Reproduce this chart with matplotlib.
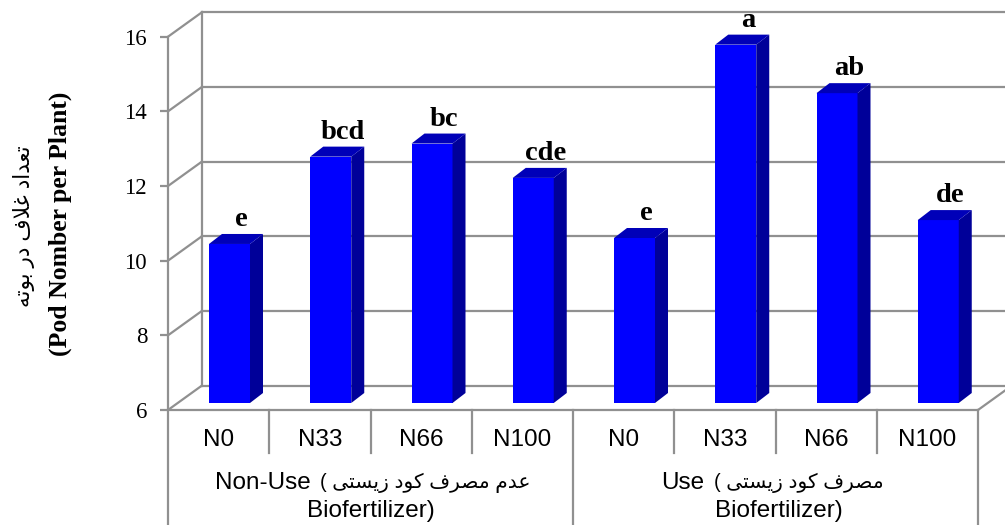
import matplotlib
matplotlib.use('Agg')
import matplotlib.pyplot as plt
from matplotlib.patches import Polygon

# one entry per bar
doses = ['N0', 'N33', 'N66', 'N100', 'N0', 'N33', 'N66', 'N100']
pods = [10.26, 12.6, 12.95, 12.03, 10.42, 15.6, 14.3, 10.9]
letters = ['e', 'bcd', 'bc', 'cde', 'e', 'a', 'ab', 'de']
yticks = [6, 8, 10, 12, 14, 16]

group1_fa = 'عدم مصرف کود زیستی'
group2_fa = 'مصرف کود زیستی'
ylabel_fa = 'تعداد غلاف در بوته'
ylabel_en = '(Pod Nomber per Plant)'

# arabic forms: isolated, final, initial, medial (matplotlib does no shaping)
forms = {
    'ا': (0xFE8D, 0xFE8E), 'د': (0xFEA9, 0xFEAA), 'ر': (0xFEAD, 0xFEAE),
    'ز': (0xFEAF, 0xFEB0), 'و': (0xFEED, 0xFEEE),
    'ب': (0xFE8F, 0xFE90, 0xFE91, 0xFE92), 'ت': (0xFE95, 0xFE96, 0xFE97, 0xFE98),
    'س': (0xFEB1, 0xFEB2, 0xFEB3, 0xFEB4), 'ص': (0xFEB9, 0xFEBA, 0xFEBB, 0xFEBC),
    'ع': (0xFEC9, 0xFECA, 0xFECB, 0xFECC), 'غ': (0xFECD, 0xFECE, 0xFECF, 0xFED0),
    'ف': (0xFED1, 0xFED2, 0xFED3, 0xFED4), 'ک': (0xFB8E, 0xFB8F, 0xFB90, 0xFB91),
    'ل': (0xFEDD, 0xFEDE, 0xFEDF, 0xFEE0), 'م': (0xFEE1, 0xFEE2, 0xFEE3, 0xFEE4),
    'ه': (0xFEE9, 0xFEEA, 0xFEEB, 0xFEEC), 'ی': (0xFBFC, 0xFBFD, 0xFBFE, 0xFBFF),
}

def shape(text):
    out = []
    text = text.replace('لا', '\uFEFB')
    for i, ch in enumerate(text):
        prev = text[i-1] if i > 0 else ' '
        nxt = text[i+1] if i < len(text)-1 else ' '
        joined_prev = prev in forms and len(forms[prev]) == 4
        joined_next = (nxt in forms or nxt == '\uFEFB') and ch in forms and len(forms[ch]) == 4
        if ch == '\uFEFB':
            out.append('\uFEFC' if joined_prev else ch)
        elif ch not in forms:
            out.append(ch)
        elif joined_prev and joined_next:
            out.append(chr(forms[ch][3]))
        elif joined_next:
            out.append(chr(forms[ch][2]))
        elif joined_prev:
            out.append(chr(forms[ch][1]))
        else:
            out.append(chr(forms[ch][0]))
    return ''.join(out[::-1])

W, H = 1005, 525
left, right, top, bottom = 168, 978, 36.7, 410
grey = '#909090'
sans = ['Liberation Sans', 'DejaVu Sans']
serif = ['Liberation Serif', 'DejaVu Serif']

fig = plt.figure(figsize=(W/100, H/100), dpi=100)
ax = fig.add_axes([left/W, 1-bottom/H, (right-left)/W, (bottom-top)/H])
ax.set_xlim(0, 8)
ax.set_ylim(6, 16)

# pixel sizes turned into data units
px = 8/(right-left)
py = 10/(bottom-top)
wall_x, wall_y = 34*px, 24.5*py
side_x, side_y = 13*px, 10*py
bar_w = 41*px
bar_off = (209-left)*px
base = 6 + 7*py
y_below = 6 - (H-bottom)*py

for s in ax.spines.values():
    s.set_visible(False)

lw = 1.6
# walls and grid
for v in yticks:
    ax.plot([0, wall_x], [v, v+wall_y], color=grey, lw=lw, clip_on=False, zorder=1)
    ax.plot([wall_x, 8.4], [v+wall_y, v+wall_y], color=grey, lw=lw, clip_on=False, zorder=1)
ax.plot([wall_x, wall_x], [6+wall_y, 16+wall_y], color=grey, lw=lw, clip_on=False, zorder=1)
ax.plot([0, 0], [y_below, 16], color=grey, lw=lw, clip_on=False, zorder=1)
ax.plot([0, 8], [6, 6], color=grey, lw=lw, clip_on=False, zorder=1)
ax.plot([8, 8+wall_x], [6, 6+wall_y], color=grey, lw=lw, clip_on=False, zorder=1)

# category separators
for i in range(1, 9):
    low = y_below if i in (4, 8) else 6 - 43*py
    ax.plot([i, i], [low, 6], color=grey, lw=lw, clip_on=False, zorder=1)

# bars with fake depth
for i, v in enumerate(pods):
    x0 = i + bar_off
    ytop = base + v - 6
    ax.bar(x0, v-6, width=bar_w, bottom=base, align='edge', color='#0000FF', zorder=3)
    ax.add_patch(Polygon([(x0+bar_w, base), (x0+bar_w+side_x, base+side_y),
                          (x0+bar_w+side_x, ytop+side_y), (x0+bar_w, ytop)],
                         closed=True, fc='#000099', ec='none', zorder=3, clip_on=False))
    ax.add_patch(Polygon([(x0, ytop), (x0+side_x, ytop+side_y),
                          (x0+bar_w+side_x, ytop+side_y), (x0+bar_w, ytop)],
                         closed=True, fc='#0000B8', ec='none', zorder=3, clip_on=False))
    ax.text(x0+bar_w/2+12*px, ytop+18*py, letters[i], ha='center', va='baseline',
            fontsize=20.5, fontweight='bold', family=serif, zorder=4, clip_on=False)

ax.set_yticks(yticks)
ax.set_yticklabels([str(t) for t in yticks], family=serif, fontsize=16.5)
ax.tick_params(axis='y', length=6, width=lw, color=grey, pad=9)
ax.set_xticks([i+0.5 for i in range(8)])
ax.set_xticklabels(doses, family=sans, fontsize=17.5)
ax.tick_params(axis='x', length=0, pad=14)

# group labels, latin and persian sized apart like the source
y_line1 = 6 - 73*py
y_line2 = 6 - 101*py
ax.text((311-left)*px, y_line1, 'Non-Use', ha='right', va='center',
        family=sans, fontsize=17.5, clip_on=False)
ax.text((320-left)*px, y_line1, '( ' + shape(group1_fa), ha='left', va='center',
        family=sans, fontsize=14.5, clip_on=False)
ax.text(2.0, y_line2, 'Biofertilizer)', ha='center', va='center',
        family=sans, fontsize=17.5, clip_on=False)
ax.text((704-left)*px, y_line1, 'Use', ha='right', va='center',
        family=sans, fontsize=17.5, clip_on=False)
ax.text((714-left)*px, y_line1, '( ' + shape(group2_fa), ha='left', va='center',
        family=sans, fontsize=14.5, clip_on=False)
ax.text(6.03, y_line2, 'Biofertilizer)', ha='center', va='center',
        family=sans, fontsize=17.5, clip_on=False)

# y label, two lines
fig.text(24/W, 1-226/H, shape(ylabel_fa), rotation=90, ha='center', va='center',
         family=sans, fontsize=15.5)
fig.text(60/W, 1-224/H, ylabel_en, rotation=90, ha='center', va='center',
         family=serif, fontsize=18.5, fontweight='bold')

fig.savefig('out.png', dpi=100)
